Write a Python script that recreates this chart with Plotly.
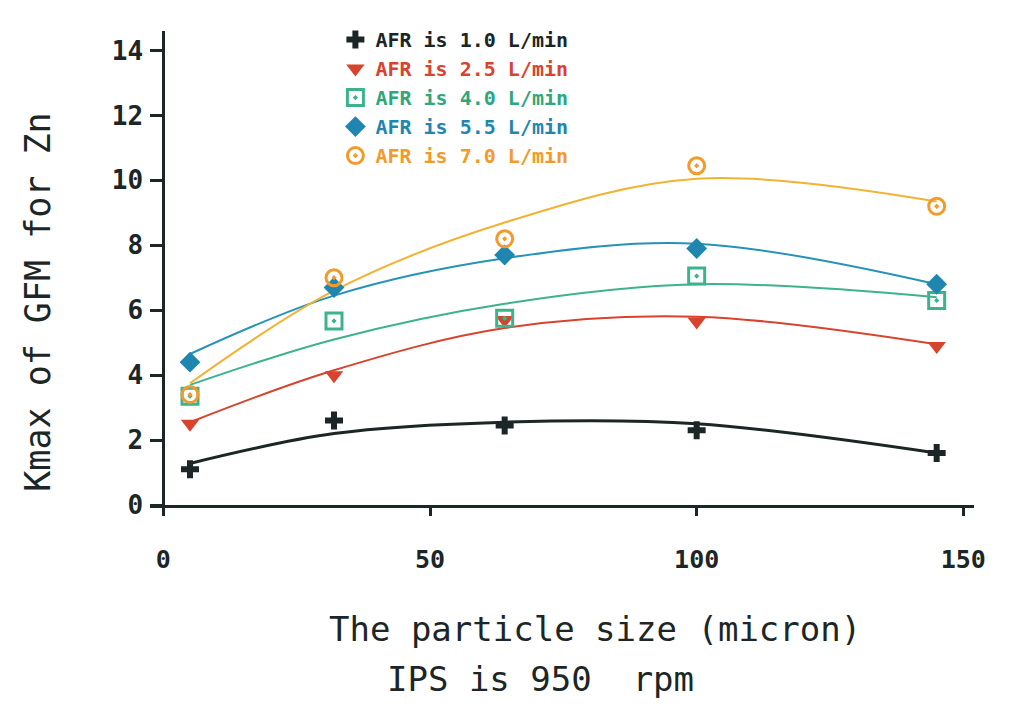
import plotly.graph_objects as go

# particle size (micron) at which Kmax was measured
size = [5, 32, 64, 100, 145]

# measured Kmax of GFM for Zn, one list per air flow rate
k_afr_10 = [1.1, 2.6, 2.45, 2.3, 1.6]
k_afr_25 = [2.5, 4.0, 5.7, 5.65, 4.9]
k_afr_40 = [3.35, 5.67, 5.75, 7.05, 6.3]
k_afr_55 = [4.4, 6.7, 7.7, 7.9, 6.8]
k_afr_70 = [3.4, 7.0, 8.2, 10.45, 9.2]

# hand-drawn trend curves at the same sizes
fit_afr_10 = [1.28, 2.2, 2.55, 2.5, 1.6]
fit_afr_25 = [2.55, 4.15, 5.45, 5.8, 4.95]
fit_afr_40 = [3.7, 5.1, 6.2, 6.8, 6.4]
fit_afr_55 = [4.65, 6.45, 7.6, 8.05, 6.8]
fit_afr_70 = [3.75, 6.6, 8.7, 10.05, 9.35]

labels = ['AFR is 1.0 L/min', 'AFR is 2.5 L/min', 'AFR is 4.0 L/min',
          'AFR is 5.5 L/min', 'AFR is 7.0 L/min']

x_ticks = [0, 50, 100, 150]
y_ticks = [0, 2, 4, 6, 8, 10, 12, 14]

series = [
    (k_afr_10, fit_afr_10, '#1c2626', '#1c2626', 'cross', '#1c2626'),
    (k_afr_25, fit_afr_25, '#d8432e', '#d8432e', 'triangle-down', '#d8432e'),
    (k_afr_40, fit_afr_40, '#3cb38a', '#3cb38a', 'square-open-dot', '#2fa77c'),
    (k_afr_55, fit_afr_55, '#2592b8', '#1f86b0', 'diamond', '#1f86b0'),
    (k_afr_70, fit_afr_70, '#f2b233', '#f39a2a', 'circle-open-dot', '#f39a2a'),
]

FONT = 'DejaVu Sans Mono'

fig = go.Figure()

# Trend curves
for vals, fit, line_col, mk_col, sym, txt_col in series:
    fig.add_trace(go.Scatter(
        x=size, y=fit, mode='lines',
        line=dict(color=line_col, width=3 if line_col == '#1c2626' else 2,
                  shape='spline', smoothing=1.0),
        showlegend=False, hoverinfo='skip'))

# Measured points
for (vals, fit, line_col, mk_col, sym, txt_col), name in zip(series, labels):
    open_sym = 'open' in sym
    fig.add_trace(go.Scatter(
        x=size, y=vals, mode='markers',
        name='<span style="color:%s">%s</span>' % (txt_col, name),
        marker=dict(symbol=sym, size=16 if sym != 'cross' else 15,
                    color=mk_col,
                    line=dict(color=mk_col, width=3 if open_sym else 0))))

# page body adds 8px around the figure, so size it to fit the window
fig.update_layout(
    width=1001, height=690,
    margin=dict(l=142, r=35, t=17, b=193),
    paper_bgcolor='white', plot_bgcolor='white',
    font=dict(family=FONT, color='#1c2626'),
    legend=dict(x=0.225, y=1.023, xanchor='left', yanchor='top',
                bgcolor='rgba(0,0,0,0)',
                font=dict(family=FONT, size=20, weight='bold'),
                itemwidth=30, tracegroupgap=0),
)

fig.update_xaxes(
    range=[-2.5, 152], tickvals=x_ticks, automargin=False,
    showgrid=False, zeroline=False,
    showline=True, linecolor='#1c2626', linewidth=3,
    ticks='outside', ticklen=8, tickwidth=3, tickcolor='#1c2626',
    ticklabelstandoff=22,
    tickfont=dict(family=FONT, size=25, weight='bold', color='#1c2626'),
)
fig.update_yaxes(
    range=[0, 14.6], tickvals=y_ticks, automargin=False,
    anchor='free', position=2.5 / 154.5,
    showgrid=False, zeroline=False,
    showline=True, linecolor='#1c2626', linewidth=3,
    ticks='outside', ticklen=12, tickwidth=3, tickcolor='#1c2626',
    ticklabelstandoff=2,
    tickfont=dict(family=FONT, size=26, weight='bold', color='#1c2626'),
)

# Axis titles
fig.add_annotation(text='Kmax of GFM for Zn', textangle=-90,
                   xref='paper', yref='paper', x=-0.137, y=0.427,
                   xanchor='center', yanchor='middle', showarrow=False,
                   font=dict(family=FONT, size=35, color='#1c2626'))
fig.add_annotation(text='The particle size (micron)',
                   xref='paper', yref='paper', x=0.215, y=-0.262,
                   xanchor='left', yanchor='middle', showarrow=False,
                   font=dict(family=FONT, size=34, color='#1c2626'))
fig.add_annotation(text='IPS is 950  rpm',
                   xref='paper', yref='paper', x=0.285, y=-0.368,
                   xanchor='left', yanchor='middle', showarrow=False,
                   font=dict(family=FONT, size=34, color='#1c2626'))

fig.write_html("out.html")
